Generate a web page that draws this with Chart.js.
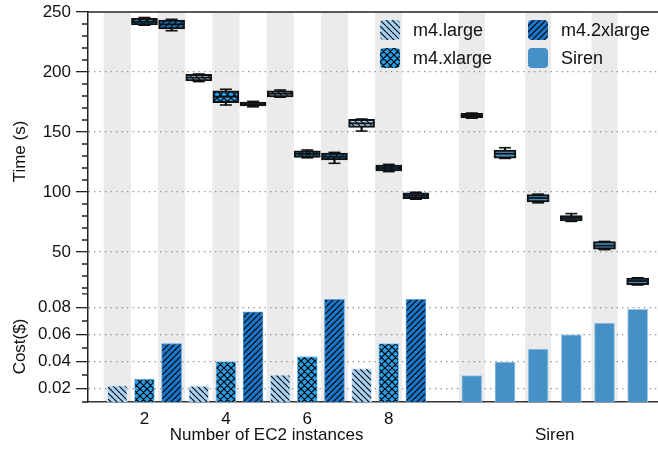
<!DOCTYPE html>
<html>
<head>
<meta charset="utf-8">
<script src="https://cdn.jsdelivr.net/npm/chart.js@4.4.1/dist/chart.umd.min.js"></script>
<style>
  html, body { margin: 0; padding: 0; background: #fff; }
  #wrap { position: relative; width: 658px; height: 449px; overflow: hidden; font-family: "Liberation Sans", Arial, sans-serif; }
  #top { position: absolute; left: 0; top: 0; width: 658px; height: 291px; }
  #bot { position: absolute; left: 0; top: 291px; width: 658px; height: 158px; }
  .lg { position: absolute; display: flex; align-items: center; font-size: 18px; color: #111; white-space: nowrap; height: 20px; }
  .lg canvas { width: 20px; height: 20px; margin-right: 13px; display: block; }
</style>
</head>
<body>
<div id="wrap">
  <canvas id="top" width="658" height="291"></canvas>
  <canvas id="bot" width="658" height="158"></canvas>
  <div id="legend"></div>
</div>
<script>
// ---------------- data ----------------
const instanceCounts = ['2', '4', '6', '8'];
const groupTitles = ['Number of EC2 instances', 'Siren'];
const seriesNames = ['m4.large', 'm4.xlarge', 'm4.2xlarge', 'Siren'];

// execution time, box stats [min, q1, median, q3, max] in seconds
// (m4.large with 2 instances is above the plotted range)
const timeLarge   = [null, [192.0, 192.5, 195.3, 198.1, 198.3], [179.0, 179.2, 181.9, 184.4, 185.0], [150.8, 153.9, 157.2, 160.6, 160.8]];
const timeXLarge  = [[239.0, 239.2, 241.9, 244.7, 245.4], [172.5, 174.4, 179.4, 184.4, 185.6], [128.5, 128.9, 131.7, 134.4, 135.0], [117.0, 117.5, 120.0, 122.5, 123.0]];
const time2XLarge = [[234.4, 235.8, 239.7, 243.3, 243.9], [171.0, 171.7, 173.3, 175.0, 175.5], [123.9, 126.7, 129.4, 132.5, 133.0], [94.0, 94.4, 96.9, 99.4, 99.8]];
const timeSiren   = [[161.5, 161.9, 163.8, 165.6, 165.8], [128.0, 128.1, 131.9, 135.0, 136.9], [91.0, 91.7, 95.0, 97.8, 98.2], [75.5, 75.8, 78.3, 80.3, 82.0], [52.0, 52.3, 55.3, 58.6, 58.8], [22.5, 22.8, 25.8, 28.3, 28.5]];

// cost in dollars
const costLarge   = [0.0222, 0.0217, 0.0301, 0.0348];
const costXLarge  = [0.0269, 0.0400, 0.0437, 0.0533];
const cost2XLarge = [0.0533, 0.0767, 0.0861, 0.0861];
const costSiren   = [0.0296, 0.0395, 0.0491, 0.0597, 0.0684, 0.0787];

// axis ranges / tick steps
const TIME_MIN = 17.5, TIME_MAX = 250, TIME_MINOR = 10, TIME_MAJOR = 50;
const COST_MIN = 0.01, COST_MAX = 0.0922, COST_MINOR = 0.01, COST_MAJOR = 0.02;

// ---------------- layout (slot positions on the x scale) ----------------
const X_MIN = -0.08, X_MAX = 20.92;
const SIREN_START = 14.06, SIREN_STEP = 1.222;
const ec2Pos = (g, t) => g * 3 + t + 1;
const sirenPos = k => SIREN_START + k * SIREN_STEP;
const EC2_CENTER = (ec2Pos(0, 0) + ec2Pos(instanceCounts.length - 1, 2)) / 2;
const SIREN_CENTER = (sirenPos(0) + sirenPos(costSiren.length - 1)) / 2;

const bands = [];
for (let s = 1; s <= instanceCounts.length * 3; s += 2) bands.push({ pos: s, w: 1.0 });
for (let k = 0; k < costSiren.length; k += 2) bands.push({ pos: sirenPos(k), w: 0.96 });

// ---------------- styles ----------------
Chart.defaults.font.family = '"Liberation Sans", Arial, sans-serif';
Chart.defaults.font.size = 17;
Chart.defaults.color = '#111';

function hatch(bg, dirs, s, lw) {
  const c = document.createElement('canvas');
  c.width = s; c.height = s;
  const g = c.getContext('2d');
  g.fillStyle = bg; g.fillRect(0, 0, s, s);
  g.strokeStyle = '#000'; g.lineWidth = lw; g.beginPath();
  for (const k of [-s, 0, s]) {
    if (dirs.includes('\\')) { g.moveTo(k, 0); g.lineTo(k + s, s); }
    if (dirs.includes('/')) { g.moveTo(k + s, 0); g.lineTo(k, s); }
  }
  g.stroke();
  return g.createPattern(c, 'repeat');
}
const COL = { large: '#a6d3f5', xlarge: '#26a0ea', x2large: '#1b74c5', siren: '#4590c7' };
const EDGE = { large: '#cfe7fa', xlarge: '#7cc6f2', x2large: '#5b9fdc', siren: '#9cc7e6' };
const fills = [
  hatch(COL.large, '\\', 6, 1.1),
  hatch(COL.xlarge, '\\/', 7, 1.2),
  hatch(COL.x2large, '/', 6, 1.1),
  COL.siren
];
const edges = [EDGE.large, EDGE.xlarge, EDGE.x2large, EDGE.siren];

const isMult = (v, m) => Math.abs(v / m - Math.round(v / m)) < 1e-6;
function stepTicks(min, max, step) {
  const out = [];
  for (let k = Math.ceil(min / step - 1e-9); k <= Math.floor(max / step + 1e-9); k++) {
    out.push({ value: +(k * step).toFixed(6) });
  }
  return out;
}

// ---------------- plugin: bands, minor ticks, top frame ----------------
const decor = {
  id: 'decor',
  beforeDraw(chart) {
    const { ctx, chartArea: a, scales: { x } } = chart;
    ctx.save();
    ctx.fillStyle = '#ebebeb';
    for (const b of bands) {
      const l = x.getPixelForValue(b.pos - b.w / 2);
      const r = x.getPixelForValue(b.pos + b.w / 2);
      ctx.fillRect(l, a.top, r - l, a.bottom - a.top);
    }
    ctx.restore();
  },
  afterDraw(chart, args, opts) {
    const { ctx, chartArea: a, scales: { y } } = chart;
    ctx.save();
    ctx.strokeStyle = '#222';
    ctx.lineWidth = 1.3;
    ctx.beginPath();
    for (const t of y.ticks) {
      if (t.label) continue;
      const py = y.getPixelForValue(t.value);
      ctx.moveTo(a.left - 6, py); ctx.lineTo(a.left, py);
    }
    ctx.stroke();
    if (opts.topBorder) {
      ctx.lineWidth = 1.5;
      ctx.beginPath();
      ctx.moveTo(a.left, a.top); ctx.lineTo(a.right, a.top);
      ctx.stroke();
    }
    ctx.restore();
  }
};

const barCommon = { type: 'bar', grouped: false, barPercentage: 1, categoryPercentage: 1 };
const fixY = s => { s.width = 88; s.paddingTop = 0; s.paddingBottom = 0; };

// ---------------- top panel: time box plots ----------------
const timeSeries = [timeLarge, timeXLarge, time2XLarge, timeSiren];
const topDatasets = [];
const whiskers = [], caps = [], medEC2 = [], medSiren = [];
timeSeries.forEach((stats, si) => {
  const boxes = [];
  stats.forEach((s, i) => {
    if (!s) return;
    const x = si === 3 ? sirenPos(i) : ec2Pos(i, si);
    const [mn, q1, md, q3, mx] = s;
    boxes.push({ x, y: [q1, q3] });
    whiskers.push({ x, y: [mn, q1] }, { x, y: [q3, mx] });
    caps.push({ x, y: mn }, { x, y: mx });
    (si === 3 ? medSiren : medEC2).push({ x, y: md });
  });
  topDatasets.push(Object.assign({}, barCommon, {
    label: seriesNames[si], data: boxes, backgroundColor: fills[si],
    borderColor: '#111', borderWidth: 2, borderSkipped: false,
    maxBarThickness: si === 3 ? 22 : 26, order: 2
  }));
});
topDatasets.push(Object.assign({}, barCommon, {
  label: 'whiskers', data: whiskers, backgroundColor: '#111', borderWidth: 0, maxBarThickness: 1.6, order: 3
}));
topDatasets.push({ type: 'scatter', label: 'caps', data: caps, pointStyle: 'line', pointRadius: 6, borderColor: '#111', borderWidth: 1.6, order: 1 });
topDatasets.push({ type: 'scatter', label: 'medEC2', data: medEC2, pointStyle: 'line', pointRadius: 12, borderColor: '#111', borderWidth: 1.8, order: 0 });
topDatasets.push({ type: 'scatter', label: 'medSiren', data: medSiren, pointStyle: 'line', pointRadius: 10, borderColor: '#111', borderWidth: 1.8, order: 0 });

new Chart(document.getElementById('top'), {
  type: 'bar',
  data: { datasets: topDatasets },
  options: {
    responsive: false, animation: false, events: [], devicePixelRatio: 1,
    layout: { autoPadding: false, padding: { top: 12, left: 0, right: 0, bottom: 0 } },
    plugins: { legend: { display: false }, tooltip: { enabled: false }, decor: { topBorder: true } },
    scales: {
      x: {
        type: 'linear', display: false, min: X_MIN, max: X_MAX, bounds: 'data', offset: false
      },
      y: {
        type: 'linear', min: TIME_MIN, max: TIME_MAX, bounds: 'data',
        afterBuildTicks: s => { s.ticks = stepTicks(TIME_MIN, TIME_MAX, TIME_MINOR); },
        afterFit: fixY,
        ticks: { autoSkip: false, padding: 5,
          callback: v => isMult(v, TIME_MAJOR) ? String(Math.round(v)) : '' },
        grid: {
          tickLength: 12, lineWidth: 1.3, tickWidth: 1.3,
          color: c => (c.tick && isMult(c.tick.value, TIME_MAJOR) && c.tick.value < TIME_MAX) ? '#8a8a8a' : 'rgba(0,0,0,0)',
          tickColor: c => (c.tick && isMult(c.tick.value, TIME_MAJOR)) ? '#222' : 'rgba(0,0,0,0)'
        },
        border: { display: true, color: '#222', width: 1.5, dash: [1.3, 4.2] },
        title: { display: true, text: 'Time (s)', padding: { top: 10, bottom: 0 } }
      }
    }
  },
  plugins: [decor]
});

// ---------------- bottom panel: cost bars ----------------
const costSeries = [costLarge, costXLarge, cost2XLarge, costSiren];
const botDatasets = costSeries.map((vals, si) => Object.assign({}, barCommon, {
  label: seriesNames[si],
  data: vals.map((v, i) => ({ x: si === 3 ? sirenPos(i) : ec2Pos(i, si), y: v })),
  backgroundColor: fills[si], borderColor: edges[si], borderWidth: 1,
  maxBarThickness: 20
}));

const xTickPos = instanceCounts.map((_, g) => ec2Pos(g, 1)).concat([EC2_CENTER, SIREN_CENTER]);
const xTickLabels = instanceCounts.slice().concat([['', groupTitles[0]], ['', groupTitles[1]]]);
const costMajor = v => isMult(v, COST_MAJOR) && v > COST_MIN + 1e-9;

new Chart(document.getElementById('bot'), {
  type: 'bar',
  data: { datasets: botDatasets },
  options: {
    responsive: false, animation: false, events: [], devicePixelRatio: 1,
    layout: { autoPadding: false, padding: 0 },
    plugins: { legend: { display: false }, tooltip: { enabled: false }, decor: { topBorder: false } },
    scales: {
      x: {
        type: 'linear', min: X_MIN, max: X_MAX, bounds: 'data', offset: false,
        afterBuildTicks: s => { s.ticks = xTickPos.map(v => ({ value: v })); },
        afterFit: s => { s.height = 47; s.paddingLeft = 0; s.paddingRight = 0; },
        ticks: { autoSkip: false, maxRotation: 0, minRotation: 0, padding: 10, font: { size: 17, lineHeight: 15.5 / 17 }, callback: (v, i) => xTickLabels[i] },
        grid: { display: false, drawTicks: false, drawOnChartArea: false },
        border: { display: true, color: '#333', width: 1.5 }
      },
      y: {
        type: 'linear', min: COST_MIN, max: COST_MAX, bounds: 'data',
        afterBuildTicks: s => { s.ticks = stepTicks(COST_MIN, COST_MAX, COST_MINOR); },
        afterFit: fixY,
        ticks: { autoSkip: false, padding: 5,
          callback: v => costMajor(v) ? v.toFixed(2) : '' },
        grid: {
          tickLength: 12, lineWidth: 1.3, tickWidth: 1.3,
          color: c => (c.tick && costMajor(c.tick.value)) ? '#8a8a8a' : 'rgba(0,0,0,0)',
          tickColor: c => (c.tick && costMajor(c.tick.value)) ? '#222' : 'rgba(0,0,0,0)'
        },
        border: { display: true, color: '#222', width: 1.5, dash: [1.3, 4.2] },
        title: { display: true, text: 'Cost($)', padding: { top: 10, bottom: 0 } }
      }
    }
  },
  plugins: [decor]
});

// ---------------- legend ----------------
const legend = document.getElementById('legend');
seriesNames.forEach((name, i) => {
  const col = Math.floor(i / 2), row = i % 2;
  const item = document.createElement('div');
  item.className = 'lg';
  item.style.left = (380 + col * 148) + 'px';
  item.style.top = (20 + row * 28) + 'px';
  const sw = document.createElement('canvas');
  sw.width = 20; sw.height = 20;
  const g = sw.getContext('2d');
  const r = 4;
  g.beginPath();
  g.moveTo(r, 0); g.lineTo(20 - r, 0); g.quadraticCurveTo(20, 0, 20, r);
  g.lineTo(20, 20 - r); g.quadraticCurveTo(20, 20, 20 - r, 20);
  g.lineTo(r, 20); g.quadraticCurveTo(0, 20, 0, 20 - r);
  g.lineTo(0, r); g.quadraticCurveTo(0, 0, r, 0);
  g.closePath();
  g.fillStyle = fills[i];
  g.fill();
  const span = document.createElement('span');
  span.textContent = name;
  item.appendChild(sw); item.appendChild(span);
  legend.appendChild(item);
});
</script>
</body>
</html>
